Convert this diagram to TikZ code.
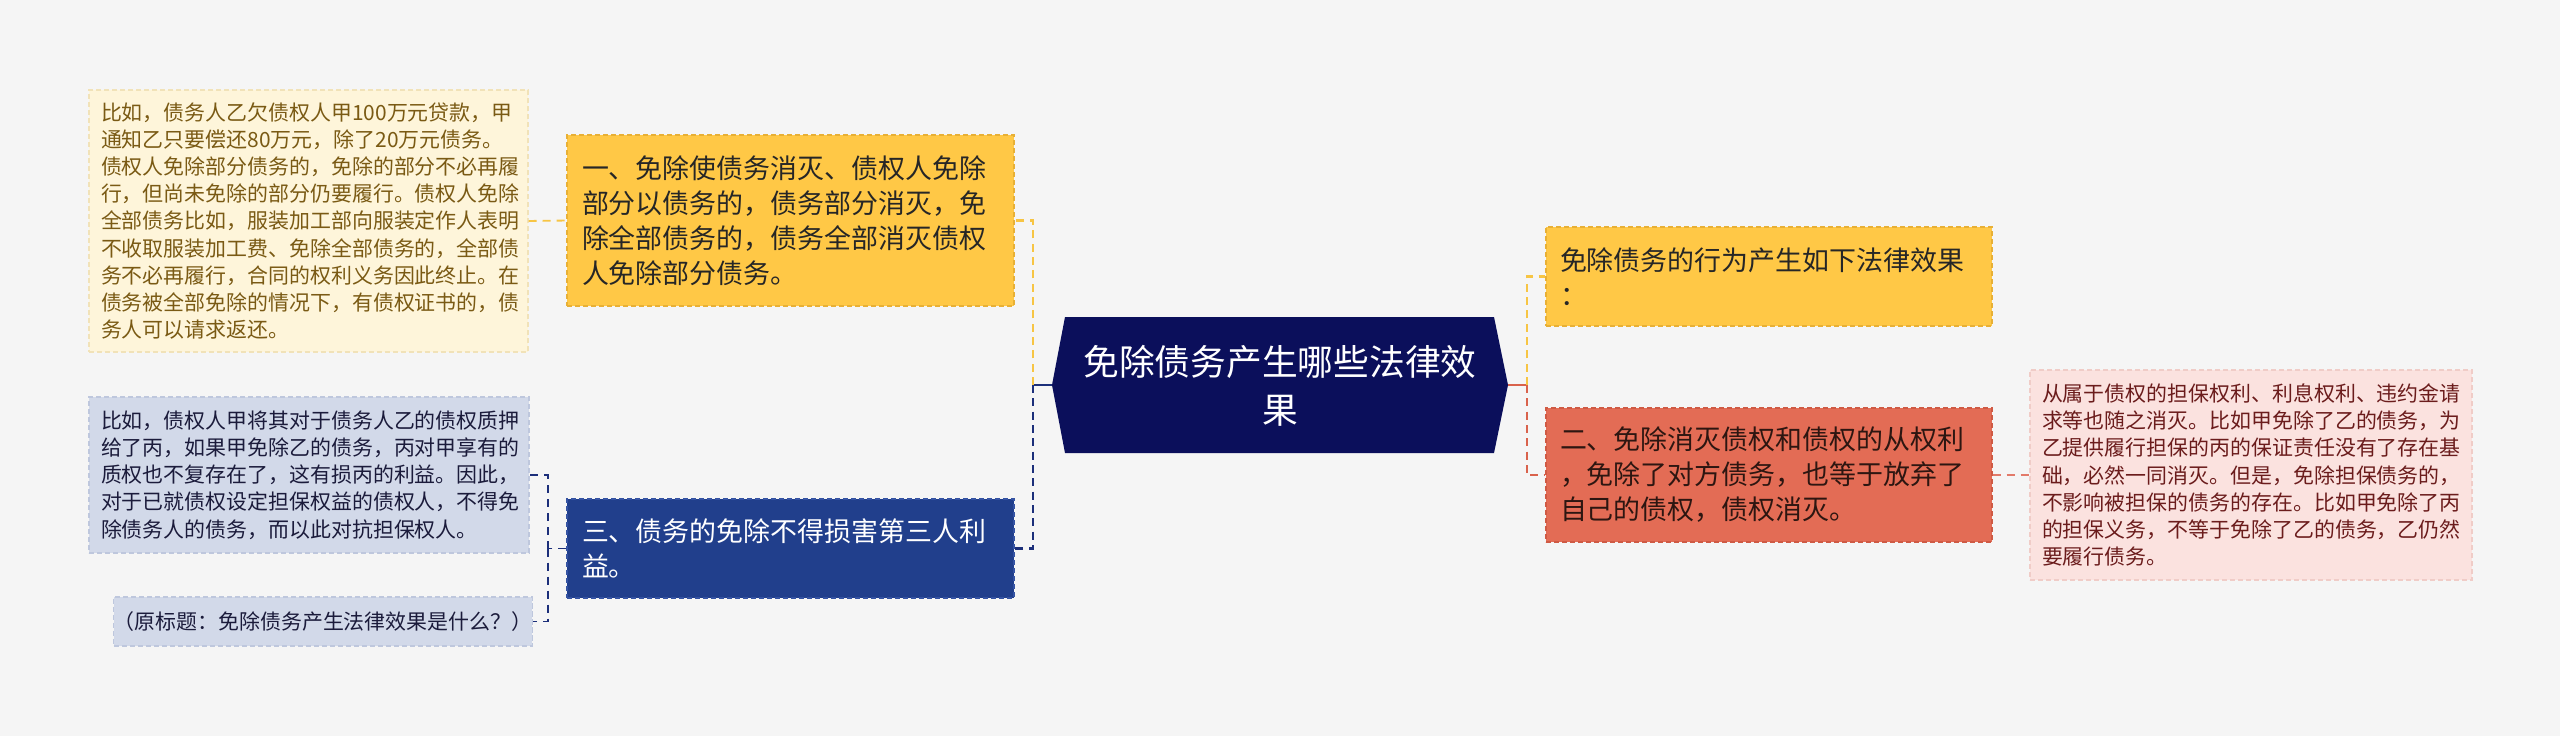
\documentclass[tikz,border=0pt]{standalone}
\usepackage{fontspec}
\setmainfont{Noto Sans CJK SC}
\usetikzlibrary{calc}
\definecolor{bg}{HTML}{F5F5F5}
\definecolor{ybox}{HTML}{FFC846}
\definecolor{yedge}{HTML}{E8B035}
\definecolor{bbox}{HTML}{213F8C}
\definecolor{bedge}{HTML}{3553A3}
\definecolor{navy}{HTML}{0B0F5B}
\definecolor{rbox}{HTML}{E36C55}
\definecolor{redge}{HTML}{CF5A44}
\definecolor{dyfill}{HTML}{FEF5DA}
\definecolor{dyedge}{HTML}{F1E2B8}
\definecolor{dytext}{HTML}{7A5A14}
\definecolor{dbfill}{HTML}{D2D9E9}
\definecolor{dbedge}{HTML}{BEC7DD}
\definecolor{dbtext}{HTML}{1B1B3B}
\definecolor{drfill}{HTML}{FBE2DF}
\definecolor{dredge}{HTML}{F0CCC7}
\definecolor{drtext}{HTML}{6B1C1C}
\definecolor{cY}{HTML}{F7C544}
\definecolor{cB}{HTML}{1C2F7A}
\definecolor{cR}{HTML}{D9624C}
\definecolor{cRl}{HTML}{E27A6A}
\tikzset{
  mainbox/.style={draw, dashed, dash pattern=on 4pt off 2pt, line width=0.9pt, align=left, inner ysep=0pt, inner xsep=11pt, text width=313pt, minimum height=#1, font=\fontsize{20.2}{26.25}\selectfont},
  detailbox/.style={draw, dashed, dash pattern=on 4pt off 2pt, line width=0.8pt, align=left, inner ysep=0pt, inner xsep=9pt, minimum height=#1, font=\fontsize{15.7}{20.4}\selectfont},
  mainconn/.style={line width=2.2pt, dashed, dash pattern=on 6pt off 4pt},
  detconn/.style={line width=1.4pt, dashed, dash pattern=on 6pt off 4.5pt},
}
\begin{document}
\begin{tikzpicture}[x=0.75pt,y=-0.75pt]
\useasboundingbox (0,0) rectangle (2560,736);
\fill[bg] (0,0) rectangle (2560,736);

% central node
\fill[navy] (1052,385) -- (1065,317) -- (1494,317) -- (1508,385) -- (1494,453) -- (1065,453) -- cycle;
\node[text=white, align=center, font=\fontsize{26.8}{36}\selectfont] (c) at (1280,386) {免除债务产生哪些法律效\\果};
\coordinate (cW) at (1052,385);
\coordinate (cE) at (1508,385);
\coordinate (jL) at (1033,385);
\coordinate (jR) at (1527,385);
\coordinate (jB) at (548,548.5);

% left main boxes
\node[mainbox=128.25pt, fill=ybox, draw=yedge, text=black!85, inner xsep=11.25pt, text width=312.75pt] (Y1) at (790.5,220.5)
 {一、免除使债务消灭、债权人免除\\部分以债务的，债务部分消灭，免\\除全部债务的，债务全部消灭债权\\人免除部分债务。};
\node[mainbox=74.25pt, fill=bbox, draw=bedge, text=white, inner xsep=11.25pt, text width=312.75pt] (B3) at (790.5,548.5)
 {三、债务的免除不得损害第三人利\\益。};

% right main boxes
\node[mainbox=74.25pt, fill=ybox, draw=yedge, text=black!85, inner xsep=10.5pt, text width=313.5pt] (Y2) at (1769,276.5)
 {免除债务的行为产生如下法律效果\\：};
\node[mainbox=100.5pt, fill=rbox, draw=redge, text=black!80!rbox, inner xsep=10.5pt, text width=313.5pt] (R) at (1769,475)
 {二、免除消灭债权和债权的从权利\\，免除了对方债务，也等于放弃了\\自己的债权，债权消灭。};

% detail boxes
\node[detailbox=196.5pt, fill=dyfill, draw=dyedge, text=dytext, text width=311.25pt] (D1) at (308.5,221)
 {比如，债务人乙欠债权人甲100万元贷款，甲\\通知乙只要偿还80万元，除了20万元债务。\\债权人免除部分债务的，免除的部分不必再履\\行，但尚未免除的部分仍要履行。债权人免除\\全部债务比如，服装加工部向服装定作人表明\\不收取服装加工费、免除全部债务的，全部债\\务不必再履行，合同的权利义务因此终止。在\\债务被全部免除的情况下，有债权证书的，债\\务人可以请求返还。};
\node[detailbox=117pt, fill=dbfill, draw=dbedge, text=dbtext, text width=312pt] (D2) at (309,475)
 {比如，债权人甲将其对于债务人乙的债权质押\\给了丙，如果甲免除乙的债务，丙对甲享有的\\质权也不复存在了，这有损丙的利益。因此，\\对于已就债权设定担保权益的债权人，不得免\\除债务人的债务，而以此对抗担保权人。};
\node[draw=dbedge, dashed, dash pattern=on 4pt off 2pt, line width=0.8pt, fill=dbfill, text=dbtext, inner sep=0pt, minimum width=309pt, minimum height=36.75pt, font=\fontsize{15.7}{20.4}\selectfont] (S) at (323,621.5)
 {（原标题：免除债务产生法律效果是什么？）};
\node[detailbox=157.5pt, fill=drfill, draw=dredge, text=drtext, text width=313.5pt] (D3) at (2251,475)
 {从属于债权的担保权利、利息权利、违约金请\\求等也随之消灭。比如甲免除了乙的债务，为\\乙提供履行担保的丙的保证责任没有了存在基\\础，必然一同消灭。但是，免除担保债务的，\\不影响被担保的债务的存在。比如甲免除了丙\\的担保义务，不等于免除了乙的债务，乙仍然\\要履行债务。};

% connectors left
\draw[line width=2.2pt, cB] (cW) -- (jL);
\draw[mainconn, cY] (jL) |- (Y1.east);
\draw[mainconn, cB] (jL) |- (B3.east);
\draw[detconn, cY] (D1.east) -- (Y1.west);
\draw[detconn, cB] (B3.west) -- (jB);
\draw[detconn, cB] (jB) |- (D2.east);
\draw[detconn, cB] (jB) |- (S.east);

% connectors right
\draw[line width=2.2pt, cR] (cE) -- (jR);
\draw[mainconn, cY] (jR) |- (Y2.west);
\draw[mainconn, cR] (jR) |- (R.west);
\draw[detconn, cRl] (R.east) -- (D3.west);
\end{tikzpicture}
\end{document}
